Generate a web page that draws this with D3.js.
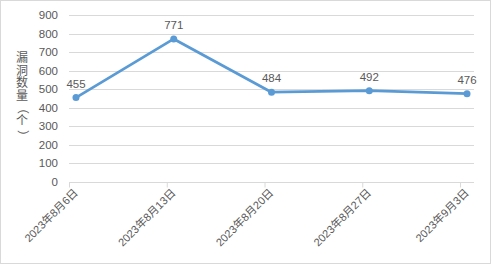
<!DOCTYPE html>
<html><head><meta charset="utf-8">
<script src="https://cdn.jsdelivr.net/npm/d3@7"></script>
<style>
html,body{margin:0;padding:0;background:#fff;}
svg{display:block;}
text{font-family:"Liberation Sans","Noto Sans CJK SC",sans-serif;fill:#595959;}
</style></head>
<body>
<svg id="chart" width="494" height="266"></svg>
<script>
const categories = ["2023年8月6日","2023年8月13日","2023年8月20日","2023年8月27日","2023年9月3日"];
const dates = ["2023-08-06","2023-08-13","2023-08-20","2023-08-27","2023-09-03"];
const values = [455, 771, 484, 492, 476];
const yTicks = [0,100,200,300,400,500,600,700,800,900];
const yTitle = "漏洞数量（个）";

(function(){
const svg = d3.select("#chart");
const parse = d3.utcParse("%Y-%m-%d");
const ds = dates.map(parse);
const mLeft = 69, mRight = 474, mTop = 15, mBottom = 182;

const x = d3.scaleUtc()
  .domain([ds[0], d3.utcDay.offset(ds[ds.length-1], 1)])
  .range([mLeft, mRight]);
const y = d3.scaleLinear().domain([0, 900]).range([mBottom, mTop]);

// frame
svg.append("rect").attr("x",0.5).attr("y",0.5).attr("width",490).attr("height",263)
  .attr("fill","#fff").attr("stroke","#d9d9d9");

// gridlines
svg.append("g").selectAll("line").data(yTicks.filter(d=>d>0)).join("line")
  .attr("x1",mLeft).attr("x2",mRight)
  .attr("y1",d=>Math.round(y(d))+0.5).attr("y2",d=>Math.round(y(d))+0.5)
  .attr("stroke","#d9d9d9").attr("stroke-width",1);

// y labels
svg.append("g").selectAll("text").data(yTicks).join("text")
  .attr("x",58).attr("y",d=>y(d)).attr("dy","0.35em")
  .attr("text-anchor","end").attr("font-size",11.5).text(d=>d);

// x axis
const xAxis = d3.axisBottom(x).tickValues(ds).tickSize(5).tickFormat((d,i)=>categories[i]);
const gx = svg.append("g").attr("transform",`translate(0,${mBottom+0.5})`).call(xAxis);
gx.select(".domain").attr("stroke","#d9d9d9").attr("d",`M${mLeft},0H${mRight}`);
gx.selectAll(".tick line").attr("stroke","#d9d9d9");
gx.selectAll(".tick text")
  .attr("font-size",11).attr("fill","#595959")
  .attr("text-anchor","end").attr("dy",null).attr("y",null)
  .attr("transform","translate(9,11) rotate(-45)")
  .attr("font-family",'"Noto Sans CJK SC",sans-serif');

// line
const px = d => x(d3.utcHour.offset(d, 12));
const pts = ds.map((d,i)=>[px(d), y(values[i])]);
svg.append("path").datum(pts)
  .attr("d", d3.line())
  .attr("fill","none").attr("stroke","#5b9bd5").attr("stroke-width",2.75)
  .attr("stroke-linejoin","round").attr("stroke-linecap","round");
svg.append("g").selectAll("circle").data(pts).join("circle")
  .attr("cx",d=>d[0]).attr("cy",d=>d[1]).attr("r",3.5).attr("fill","#5b9bd5");

// data labels
svg.append("g").selectAll("text").data(pts).join("text")
  .attr("x",d=>d[0]).attr("y",d=>d[1]-10)
  .attr("text-anchor","middle").attr("font-size",11.5)
  .text((d,i)=>values[i]);

// y title, stacked characters
const chars = Array.from(yTitle);
const cy = [58, 70.5, 83, 96, 108, 121, 136];
const tg = svg.append("g").attr("font-family",'"Noto Sans CJK SC",sans-serif');
tg.selectAll("text").data(chars).join("text")
  .attr("font-size",12).attr("text-anchor","middle").attr("dy","0.35em")
  .attr("transform",(c,i)=>`translate(22,${cy[i]})` + ((c==="（"||c==="）")?" rotate(90)":""))
  .attr("font-family",'"Noto Sans CJK SC",sans-serif')
  .text(c=>c);
})();
</script>
</body></html>
